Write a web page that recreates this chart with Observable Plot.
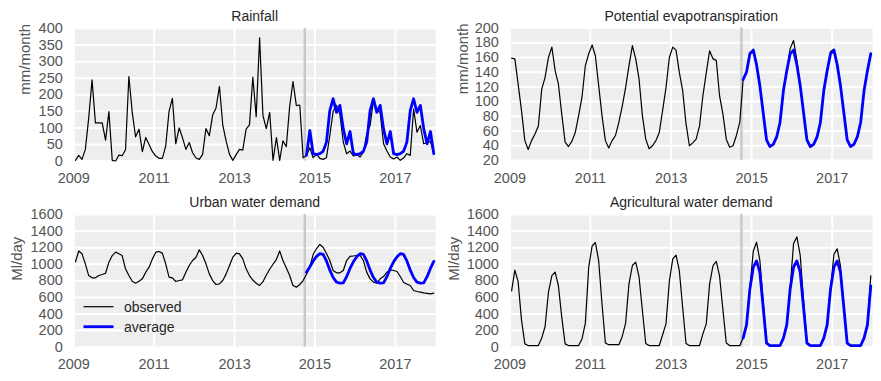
<!DOCTYPE html>
<html><head><meta charset="utf-8">
<script src="https://cdn.jsdelivr.net/npm/d3@7"></script>
<script src="https://cdn.jsdelivr.net/npm/@observablehq/plot@0.6"></script>
<style>
html,body{margin:0;padding:0;background:#fff;}
#chart{position:relative;width:881px;height:381px;overflow:hidden;font-family:"Liberation Sans",Arial,sans-serif;}
#chart .panel{position:absolute;}
#chart svg{display:block;}
</style></head><body><div id="chart"></div>
<script>
// ---- data (monthly, Jan 2009 .. Dec 2017; averages from Oct 2014) ----
const startYear = 2009;
const averageStartIndex = 69;          // Oct 2014
const splitYearMonth = [2014, 9];      // grey separator, 1 Oct 2014
const yearTicks = [2009, 2011, 2013, 2015, 2017];
const rainfallTicks = [0, 50, 100, 150, 200, 250, 300, 350, 400];
const petTicks = [20, 40, 60, 80, 100, 120, 140, 160, 180, 200];
const demandTicks = [0, 200, 400, 600, 800, 1000, 1200, 1400, 1600];
const titles = ["Rainfall", "Potential evapotranspiration", "Urban water demand", "Agricultural water demand"];
const yLabels = ["mm/month", "mm/month", "Ml/day", "Ml/day"];
const legendLabels = ["observed", "average"];

const rainfallObserved = [
  2, 17, 5, 35, 130, 245, 115, 115, 115, 63, 149, 2,
  0, 18, 16, 34, 255, 147, 73, 96, 28, 71, 50, 28,
  15, 8, 8, 45, 150, 189, 52, 100, 70, 35, 56, 25,
  9, 5, 20, 98, 76, 139, 160, 225, 108, 60, 20, 2,
  20, 35, 33, 96, 109, 253, 134, 372, 137, 98, 147, 2,
  71, 2, 61, 43, 164, 240, 167, 169, 10, 17, 40, 10,
  20, 8, 5, 10, 77, 150, 168, 140, 57, 22, 30, 15,
  20, 12, 26, 82, 107, 183, 158, 145, 52, 30, 12, 6,
  12, 2, 9, 22, 17, 157, 87, 107, 52, 55, 59, 22
];
const rainfallAverage = [
  17, 92, 22, 19, 22, 29, 57, 152, 188, 147, 168, 97,
  52, 89, 22, 19, 22, 29, 57, 152, 188, 147, 168, 97,
  52, 89, 22, 19, 22, 29, 57, 152, 188, 147, 168, 97,
  52, 89, 22
];
const petObserved = [
  159, 158, 124, 88, 47, 35, 47, 56, 67, 117, 133, 160,
  174, 142, 124, 83, 45, 39, 46, 58, 81, 106, 149, 165,
  177, 162, 122, 81, 47, 37, 47, 54, 72, 94, 119, 149,
  176, 158, 131, 81, 49, 36, 40, 47, 58, 88, 119, 160,
  174, 170, 140, 115, 70, 40, 44, 49, 67, 108, 139, 169,
  158, 156, 108, 83, 49, 38, 40, 54, 72, 130, 141, 166,
  171, 149, 123, 86, 47, 39, 42, 53, 71, 116, 141, 172,
  183, 156, 121, 84, 49, 38, 42, 51, 73, 114, 143, 168,
  171, 151, 121, 86, 48, 40, 41, 52, 72, 116, 141, 166
];
const petAverage = [
  130, 140, 165, 170, 150, 122, 85, 48, 39, 42, 52, 72,
  115, 142, 165, 170, 150, 122, 85, 48, 39, 42, 52, 72,
  115, 142, 165, 170, 150, 122, 85, 48, 39, 42, 52, 72,
  115, 142, 165
];
const urbanObserved = [
  1030, 1160, 1126, 1005, 864, 836, 836, 864, 876, 892, 1025, 1105,
  1146, 1126, 1105, 945, 864, 796, 772, 796, 824, 904, 965, 1065,
  1146, 1154, 1134, 1005, 844, 836, 792, 804, 812, 904, 985, 1045,
  1085, 1174, 1105, 1005, 884, 804, 756, 764, 804, 884, 985, 1085,
  1134, 1126, 1065, 945, 864, 810, 770, 745, 790, 870, 940, 1000,
  1060, 1160, 1045, 957, 864, 744, 724, 756, 804, 880, 965, 1120,
  1190, 1239, 1206, 1130, 1045, 925, 897, 897, 925, 1045, 1094, 1100,
  1106, 1106, 1045, 905, 824, 784, 772, 824, 852, 905, 932, 925,
  913, 852, 784, 760, 744, 684, 672, 664, 656, 650, 643, 651
];
const urbanAverage = [
  905, 970, 1040, 1095, 1128, 1120, 1040, 930, 840, 785, 772, 775,
  850, 950, 1030, 1090, 1128, 1120, 1040, 930, 840, 785, 772, 775,
  850, 950, 1030, 1090, 1128, 1120, 1040, 930, 840, 785, 772, 775,
  850, 950, 1035
];
const agriObserved = [
  680, 930, 790, 330, 40, 20, 20, 20, 20, 110, 250, 663,
  864, 905, 744, 362, 40, 20, 20, 20, 20, 100, 290, 965,
  1220, 1262, 1045, 520, 50, 30, 30, 30, 30, 130, 290, 764,
  985, 1025, 850, 442, 45, 20, 20, 20, 20, 150, 281, 795,
  1065, 1110, 925, 480, 45, 20, 20, 20, 20, 160, 281, 764,
  985, 1035, 860, 450, 50, 20, 20, 20, 20, 115, 275, 720,
  1160, 1266, 1050, 560, 60, 20, 20, 20, 20, 110, 272, 720,
  1250, 1330, 1110, 570, 60, 20, 20, 20, 20, 110, 272, 700,
  1120, 1186, 980, 500, 55, 20, 20, 20, 20, 110, 275, 860
];
const agriAverage = [
  110, 270, 700, 965, 1040, 905, 480, 50, 20, 20, 20, 20,
  110, 270, 700, 965, 1040, 905, 480, 50, 20, 20, 20, 20,
  110, 270, 700, 965, 1040, 905, 480, 50, 20, 20, 20, 20,
  110, 270, 740
];

// ---- helpers ----
const FONT = '"Liberation Sans", Arial, sans-serif';
function monthMid(j) {
  const a = Date.UTC(startYear, j, 1), b = Date.UTC(startYear, j + 1, 1);
  return new Date((a + b) / 2);
}
function rows(values, offset) {
  return values.map((v, i) => ({date: monthMid(offset + i), value: v}));
}
const xTicks = yearTicks.map(y => new Date(Date.UTC(y, 0, 1)));
const xDomain = [new Date(Date.UTC(2009, 0, 1)), new Date(Date.UTC(2018, 0, 1))];
const splitDate = new Date(Date.UTC(splitYearMonth[0], splitYearMonth[1], 1));

function panel(cfg) {
  const p = Plot.plot({
    width: cfg.width, height: cfg.height,
    marginLeft: cfg.mL, marginRight: cfg.mR, marginTop: cfg.mT, marginBottom: cfg.mB,
    style: {fontFamily: FONT, fontSize: "14px", color: "#555", background: "transparent", overflow: "visible"},
    x: {type: "utc", domain: xDomain, label: null},
    y: {domain: cfg.yDomain, label: null},
    marks: [
      Plot.frame({fill: "#eeeeee", stroke: "none"}),
      Plot.gridY(cfg.yTicks, {stroke: "white", strokeOpacity: 1, strokeWidth: 2}),
      Plot.gridX(xTicks, {stroke: "white", strokeOpacity: 1, strokeWidth: 2}),
      Plot.ruleX([splitDate], {stroke: "#c9c9c9", strokeWidth: 2.5}),
      Plot.line(rows(cfg.obs, 0), {x: "date", y: "value", stroke: "black", strokeWidth: 1.2}),
      Plot.line(rows(cfg.avg, averageStartIndex), {x: "date", y: "value", stroke: "#0000ff", strokeWidth: 2.8}),
      Plot.axisX(xTicks, {tickFormat: d3.utcFormat("%Y"), tickSize: 0, tickPadding: 12, fontSize: 14.5, label: null}),
      Plot.axisY(cfg.yTicks, {tickFormat: d => String(d), tickSize: 0, tickPadding: 11, fontSize: 14.5, label: null}),
      Plot.text([cfg.title], {frameAnchor: "top", dy: -11.5, fontSize: 14, fill: "#262626", lineAnchor: "middle"}),
      Plot.text([cfg.ylabel], {frameAnchor: "left", dx: cfg.labelDx, rotate: -90, fontSize: 15, fill: "#555", lineAnchor: "middle"})
    ]
  });
  const wrap = document.createElement("div");
  wrap.className = "panel";
  wrap.style.left = cfg.left + "px";
  wrap.style.top = cfg.top + "px";
  wrap.appendChild(p);
  document.getElementById("chart").appendChild(wrap);
}

panel({title: titles[0], ylabel: yLabels[0], obs: rainfallObserved, avg: rainfallAverage,
  yDomain: [0, 400], yTicks: rainfallTicks, left: 0, top: 0, width: 440, height: 192,
  mL: 73.3, mR: 5, mT: 28, mB: 31.5, labelDx: -48.5});
panel({title: titles[1], ylabel: yLabels[1], obs: petObserved, avg: petAverage,
  yDomain: [20, 200], yTicks: petTicks, left: 440, top: 0, width: 441, height: 192,
  mL: 69.4, mR: 9, mT: 27.5, mB: 32, labelDx: -46.5});
panel({title: titles[2], ylabel: yLabels[2], obs: urbanObserved, avg: urbanAverage,
  yDomain: [0, 1600], yTicks: demandTicks, left: 0, top: 190, width: 440, height: 191,
  mL: 73.3, mR: 5, mT: 24, mB: 34.3, labelDx: -56.5});
panel({title: titles[3], ylabel: yLabels[3], obs: agriObserved, avg: agriAverage,
  yDomain: [0, 1600], yTicks: demandTicks, left: 440, top: 190, width: 441, height: 191,
  mL: 69.4, mR: 9, mT: 24, mB: 34.3, labelDx: -55.4});

// ---- legend (inside the urban panel) ----
const legend = d3.select("#chart").append("svg")
  .attr("width", 881).attr("height", 381)
  .style("position", "absolute").style("left", "0px").style("top", "0px")
  .style("pointer-events", "none");
const legendItems = [
  {label: legendLabels[0], color: "black", width: 1.2, y: 306.7},
  {label: legendLabels[1], color: "#0000ff", width: 2.8, y: 326.7}
];
for (const it of legendItems) {
  legend.append("line").attr("x1", 83.5).attr("x2", 113.5).attr("y1", it.y).attr("y2", it.y)
    .attr("stroke", it.color).attr("stroke-width", it.width);
  legend.append("text").attr("x", 124).attr("y", it.y).attr("dy", "0.35em")
    .attr("font-family", FONT).attr("font-size", 14).attr("fill", "#262626").text(it.label);
}
</script>
</body></html>
